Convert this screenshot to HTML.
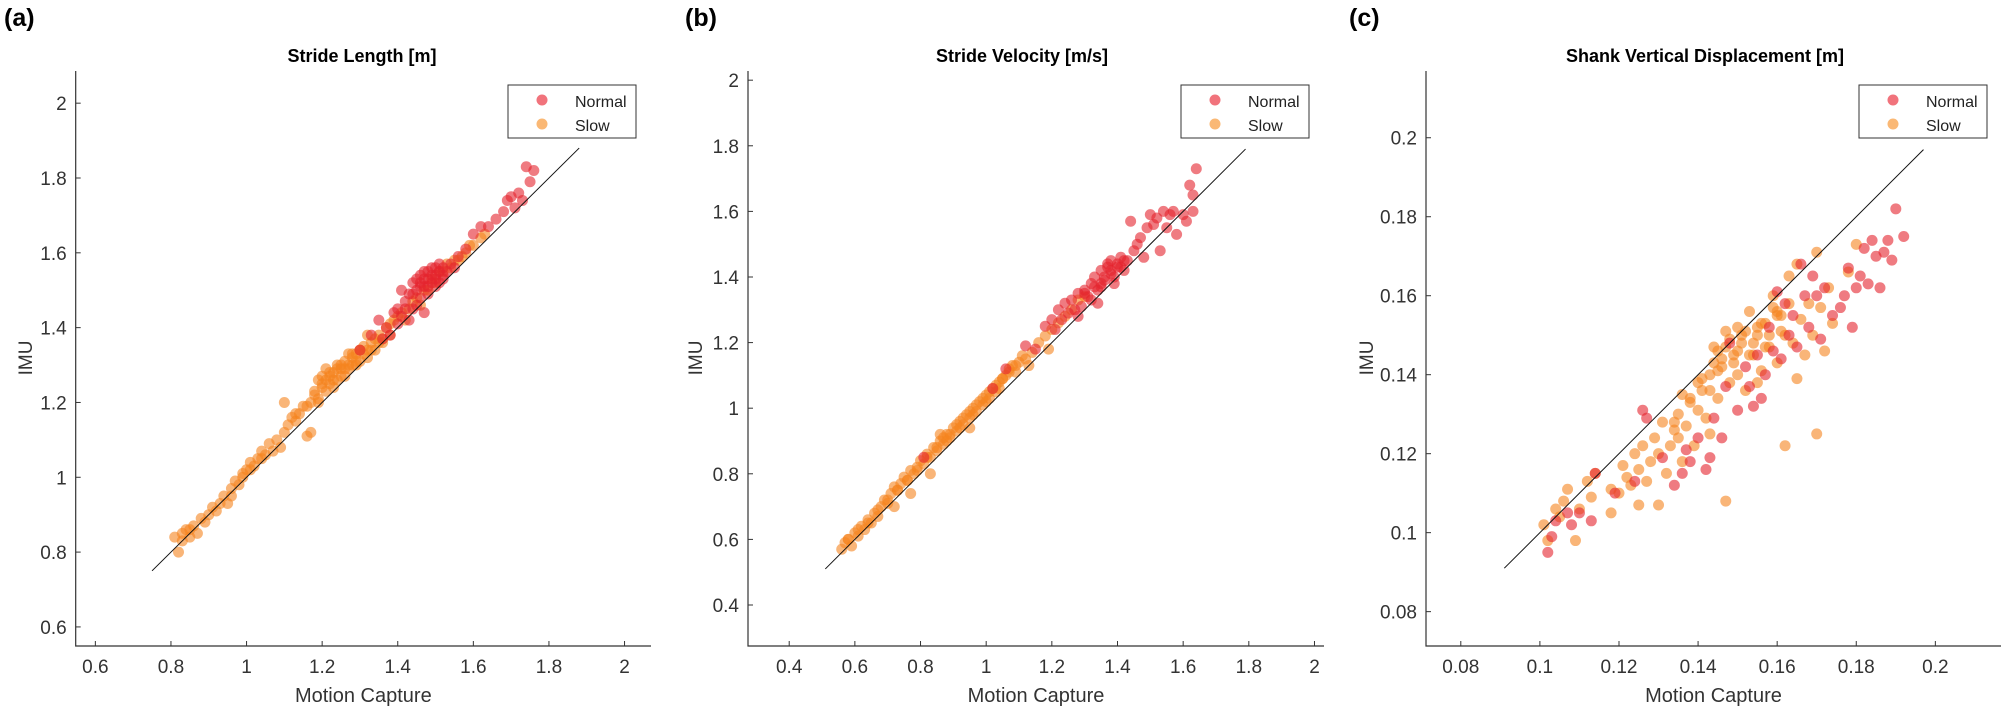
<!DOCTYPE html>
<html><head><meta charset="utf-8"><style>
html,body{margin:0;padding:0;background:#fff;}
svg{display:block;font-family:"Liberation Sans",Arial,sans-serif;}
</style></head><body>
<svg id="fig" width="2007" height="707" viewBox="0 0 2007 707"></svg>
<script>
// ---- Panel A data: Stride Length ----
const aSlowX=[0.81,0.82,0.83,0.84,0.85,0.86,0.87,0.88,0.90,0.91,0.93,0.94,0.95,0.96,0.97,0.98,0.99,1.00,1.01,1.02,1.03,1.04,1.05,1.06,1.07,1.08,1.10,1.10,1.11,1.12,1.14,1.15,1.16,1.17,1.17,1.18,1.19,1.20,1.20,1.21,1.22,1.22,1.23,1.24,1.25,1.25,1.26,1.27,1.28,1.28,1.29,1.30,1.31,1.32,1.32,1.33,1.34,1.35,1.36,1.37,1.38,1.40,1.42,1.44,1.46,1.48,1.50,1.52,1.54,1.56,1.58,1.60,1.62,1.63,1.21,1.16,1.13,1.24,1.27,1.30,1.35,1.19,
 0.83,0.85,0.89,0.92,0.96,0.99,1.01,1.04,1.09,1.13,1.18,1.19,1.21,1.23,1.24,1.26,1.27,1.29,1.30,1.31,1.33,1.34,1.36,1.38,1.39,1.41,1.43,1.45,1.47,1.49,1.51,1.53,1.55,1.57,1.59,1.22,1.25,1.28,1.20,1.23,1.26,1.29,1.32];
const aSlowY=[0.84,0.80,0.83,0.86,0.84,0.87,0.85,0.89,0.90,0.92,0.93,0.95,0.93,0.97,0.99,0.98,1.00,1.02,1.04,1.03,1.05,1.07,1.06,1.09,1.07,1.10,1.12,1.20,1.14,1.16,1.17,1.19,1.11,1.12,1.20,1.22,1.21,1.24,1.25,1.23,1.27,1.25,1.28,1.26,1.30,1.27,1.31,1.29,1.32,1.30,1.33,1.31,1.35,1.32,1.38,1.36,1.34,1.38,1.36,1.40,1.38,1.43,1.42,1.47,1.46,1.50,1.52,1.55,1.56,1.58,1.60,1.62,1.64,1.65,1.29,1.19,1.15,1.30,1.33,1.34,1.36,1.26,
 0.85,0.86,0.88,0.91,0.95,1.01,1.02,1.05,1.08,1.17,1.23,1.20,1.26,1.24,1.29,1.27,1.30,1.31,1.34,1.33,1.34,1.37,1.37,1.41,1.42,1.44,1.45,1.48,1.50,1.53,1.55,1.57,1.58,1.59,1.62,1.28,1.29,1.33,1.27,1.26,1.29,1.30,1.34];
const aNormX=[1.30,1.33,1.35,1.37,1.38,1.39,1.40,1.41,1.42,1.43,1.44,1.44,1.45,1.46,1.46,1.47,1.47,1.48,1.48,1.49,1.49,1.50,1.50,1.51,1.51,1.52,1.52,1.53,1.45,1.43,1.47,1.54,1.56,1.58,1.60,1.62,1.64,1.66,1.68,1.69,1.70,1.71,1.72,1.73,1.74,1.75,1.76,1.36,1.41,
 1.44,1.45,1.46,1.47,1.48,1.49,1.50,1.51,1.52,1.46,1.48,1.50,1.42,1.40,1.55];
const aNormY=[1.34,1.38,1.42,1.40,1.38,1.44,1.45,1.43,1.47,1.49,1.45,1.52,1.50,1.48,1.54,1.51,1.55,1.53,1.49,1.56,1.52,1.54,1.51,1.55,1.57,1.53,1.56,1.55,1.46,1.42,1.44,1.57,1.59,1.61,1.65,1.67,1.67,1.69,1.71,1.74,1.75,1.72,1.76,1.74,1.83,1.79,1.82,1.37,1.50,
 1.49,1.53,1.51,1.53,1.55,1.54,1.53,1.52,1.54,1.52,1.51,1.56,1.45,1.41,1.56];
const aTicksX=[0.6,0.8,1,1.2,1.4,1.6,1.8,2];
const aTicksY=[0.6,0.8,1,1.2,1.4,1.6,1.8,2];
const aLine=[0.75,1.88];
// ---- Panel B data: Stride Velocity ----
const bSlowX=[0.56,0.57,0.58,0.59,0.60,0.61,0.62,0.63,0.64,0.65,0.66,0.67,0.68,0.69,0.70,0.71,0.72,0.72,0.73,0.74,0.75,0.76,0.77,0.78,0.79,0.80,0.81,0.82,0.83,0.84,0.85,0.86,0.86,0.87,0.88,0.89,0.90,0.91,0.92,0.93,0.94,0.95,0.96,0.97,0.98,0.99,1.00,1.01,1.02,1.03,1.04,1.05,1.06,1.07,1.08,1.09,1.10,1.11,1.12,1.14,1.16,1.18,1.19,1.20,1.22,1.24,1.26,1.28,1.30,0.77,0.83,0.95,1.13,
 0.58,0.61,0.64,0.67,0.70,0.73,0.76,0.79,0.82,0.85,0.87,0.89,0.91,0.93,0.95,0.97,0.99,1.01,1.03,1.05,1.07,1.09,0.88,0.92,0.96,1.00,1.04];
const bSlowY=[0.57,0.59,0.60,0.58,0.62,0.61,0.64,0.63,0.66,0.65,0.68,0.67,0.70,0.72,0.71,0.74,0.70,0.76,0.75,0.77,0.79,0.78,0.81,0.80,0.82,0.84,0.83,0.86,0.85,0.88,0.87,0.90,0.92,0.89,0.92,0.91,0.94,0.93,0.96,0.95,0.98,0.97,1.00,0.99,1.02,1.01,1.04,1.03,1.06,1.05,1.08,1.09,1.10,1.12,1.13,1.11,1.14,1.16,1.15,1.17,1.20,1.22,1.18,1.24,1.26,1.28,1.30,1.33,1.34,0.74,0.80,0.94,1.13,
 0.60,0.63,0.65,0.69,0.72,0.75,0.78,0.81,0.85,0.88,0.91,0.92,0.95,0.97,0.99,1.01,1.03,1.05,1.07,1.09,1.11,1.13,0.90,0.94,0.98,1.02,1.06];
const bNormX=[0.81,1.02,1.06,1.12,1.15,1.18,1.20,1.21,1.22,1.23,1.24,1.25,1.26,1.27,1.28,1.29,1.30,1.31,1.32,1.32,1.33,1.34,1.35,1.35,1.36,1.37,1.38,1.38,1.39,1.40,1.41,1.42,1.43,1.44,1.45,1.46,1.47,1.48,1.49,1.50,1.51,1.52,1.53,1.54,1.55,1.56,1.57,1.58,1.60,1.61,1.62,1.63,1.63,1.64,1.28,1.34,
 1.30,1.33,1.36,1.38,1.40,1.42,1.37,1.39,1.41,1.35];
const bNormY=[0.85,1.06,1.12,1.19,1.18,1.25,1.27,1.24,1.30,1.27,1.32,1.29,1.33,1.30,1.35,1.31,1.36,1.34,1.38,1.33,1.40,1.36,1.42,1.37,1.39,1.43,1.41,1.45,1.38,1.44,1.46,1.42,1.45,1.57,1.48,1.50,1.52,1.46,1.55,1.59,1.56,1.58,1.48,1.60,1.55,1.59,1.60,1.53,1.59,1.57,1.68,1.60,1.65,1.73,1.28,1.32,
 1.35,1.37,1.40,1.42,1.43,1.45,1.44,1.40,1.43,1.38];
const bTicksX=[0.4,0.6,0.8,1,1.2,1.4,1.6,1.8,2];
const bTicksY=[0.4,0.6,0.8,1,1.2,1.4,1.6,1.8,2];
const bLine=[0.51,1.79];
// ---- Panel C data: Shank Vertical Displacement ----
const cSlowX=[0.101,0.102,0.104,0.105,0.106,0.107,0.109,0.110,0.112,0.113,0.114,0.118,0.118,0.120,0.121,0.122,0.123,0.124,0.125,0.125,0.126,0.127,0.128,0.129,0.130,0.130,0.131,0.132,0.133,0.134,0.135,0.136,0.137,0.138,0.139,0.140,0.141,0.142,0.143,0.143,0.144,0.145,0.146,0.147,0.147,0.148,0.149,0.150,0.151,0.152,0.153,0.154,0.155,0.156,0.157,0.158,0.159,0.160,0.161,0.162,0.162,0.163,0.164,0.165,0.165,0.166,0.167,0.168,0.169,0.170,0.170,0.171,0.172,0.173,0.174,0.178,0.180,0.155,0.150,0.145,0.140,0.135,0.160,
 0.146,0.148,0.150,0.152,0.154,0.156,0.158,0.160,0.149,0.151,0.153,0.155,0.157,0.159,0.161,0.163,0.141,0.143,0.145,0.138,0.136,0.134,0.144,0.147];
const cSlowY=[0.102,0.098,0.106,0.104,0.108,0.111,0.098,0.106,0.113,0.109,0.115,0.105,0.111,0.110,0.117,0.114,0.112,0.120,0.107,0.116,0.122,0.113,0.118,0.124,0.107,0.120,0.128,0.115,0.122,0.126,0.130,0.118,0.127,0.134,0.122,0.131,0.136,0.129,0.140,0.125,0.147,0.134,0.142,0.108,0.151,0.138,0.145,0.140,0.148,0.136,0.156,0.145,0.150,0.141,0.153,0.147,0.160,0.143,0.155,0.122,0.150,0.165,0.148,0.139,0.168,0.154,0.145,0.158,0.150,0.125,0.171,0.157,0.146,0.162,0.153,0.166,0.173,0.138,0.152,0.146,0.138,0.124,0.156,
 0.144,0.149,0.146,0.151,0.148,0.153,0.150,0.155,0.143,0.150,0.145,0.152,0.147,0.157,0.151,0.158,0.139,0.136,0.141,0.133,0.135,0.128,0.143,0.147];
const cNormX=[0.102,0.103,0.104,0.107,0.108,0.110,0.113,0.114,0.119,0.124,0.126,0.127,0.131,0.134,0.136,0.137,0.138,0.140,0.142,0.143,0.144,0.146,0.147,0.148,0.150,0.152,0.153,0.154,0.155,0.156,0.157,0.158,0.159,0.160,0.161,0.162,0.163,0.164,0.165,0.166,0.167,0.168,0.169,0.170,0.171,0.172,0.174,0.176,0.177,0.178,0.179,0.180,0.181,0.182,0.183,0.184,0.185,0.186,0.187,0.188,0.189,0.190,0.192];
const cNormY=[0.095,0.099,0.103,0.105,0.102,0.105,0.103,0.115,0.110,0.113,0.131,0.129,0.119,0.112,0.115,0.121,0.118,0.124,0.116,0.119,0.129,0.124,0.137,0.148,0.131,0.142,0.137,0.132,0.145,0.134,0.140,0.152,0.146,0.161,0.144,0.158,0.150,0.155,0.147,0.168,0.160,0.152,0.165,0.160,0.149,0.162,0.155,0.157,0.160,0.167,0.152,0.162,0.165,0.172,0.163,0.174,0.170,0.162,0.171,0.174,0.169,0.182,0.175];
const cTicksX=[0.08,0.1,0.12,0.14,0.16,0.18,0.2];
const cTicksY=[0.08,0.1,0.12,0.14,0.16,0.18,0.2];
const cLine=[0.091,0.197];

const NS='http://www.w3.org/2000/svg';
const svg=document.getElementById('fig');
function mk(tag,attrs,parent){const e=document.createElementNS(NS,tag);for(const k in attrs)e.setAttribute(k,attrs[k]);(parent||svg).appendChild(e);return e;}
function txt(s,attrs,parent){const e=mk('text',attrs,parent);e.textContent=s;return e;}

const NORM='rgba(228,35,45,0.6)', SLOW='rgba(245,132,30,0.6)';

function panel(cfg){
  const g=mk('g',{});
  
  
  const sx=v=>cfg.x0+(v-cfg.xmin)/(cfg.xmax-cfg.xmin)*(cfg.x1-cfg.x0);
  const sy=v=>cfg.y1-(v-cfg.ymin)/(cfg.ymax-cfg.ymin)*(cfg.y1-cfg.y0);
  const pl=txt(cfg.letter,{x:cfg.letterX,y:26,'font-size':25,'font-weight':'bold',fill:'#000'},g);
  
  
  const t=txt(cfg.title,{x:cfg.titleX,y:62,'font-size':18,'font-weight':'bold','text-anchor':'middle',fill:'#000'},g);
  
  
  const pts=mk('g',{},g);
  
  
  cfg.slowX.forEach((v,i)=>{const c=mk('circle',{cx:sx(v),cy:sy(cfg.slowY[i]),r:5.5,fill:SLOW},pts);
    
    });
  cfg.normX.forEach((v,i)=>{const c=mk('circle',{cx:sx(v),cy:sy(cfg.normY[i]),r:5.5,fill:NORM},pts);
    
    });
  const ln=mk('line',{x1:sx(cfg.line[0]),y1:sy(cfg.line[0]),x2:sx(cfg.line[1]),y2:sy(cfg.line[1]),stroke:'#111','stroke-width':1},g);
  
  
  const ax=mk('path',{d:`M${cfg.x0},${cfg.y0}V${cfg.y1}H${cfg.x1}`,fill:'none',stroke:'#333','stroke-width':1.2},g);
  
  
  cfg.ticksX.forEach(v=>{const x=sx(v);mk('line',{x1:x,y1:cfg.y1,x2:x,y2:cfg.y1-5,stroke:'#333'},g);
    const l=txt(String(v),{x:x,y:cfg.y1+27,'font-size':19,'text-anchor':'middle',fill:'#333'},g);
    
    });
  cfg.ticksY.forEach(v=>{const y=sy(v);mk('line',{x1:cfg.x0,y1:y,x2:cfg.x0+5,y2:y,stroke:'#333'},g);
    const l=txt(String(v),{x:cfg.x0-9,y:y+7,'font-size':19,'text-anchor':'end',fill:'#333'},g);
    
    });
  const xl=txt('Motion Capture',{x:(cfg.x0+cfg.x1)/2,y:702,'font-size':20,'text-anchor':'middle',fill:'#333'},g);
  
  
  const yl=txt('IMU',{x:0,y:0,'font-size':19,'text-anchor':'middle',fill:'#333',transform:`translate(${cfg.imuX},358) rotate(-90)`},g);
  
  
  const lg=mk('g',{},g);
  
  
  mk('rect',{x:cfg.legX,y:85,width:128,height:53,fill:'#fff',stroke:'#333','stroke-width':1},lg);
  const e1=mk('g',{},lg);
  
  
  mk('circle',{cx:cfg.legX+34,cy:100,r:5.5,fill:'rgba(240,100,110,0.9)'},e1);
  txt('Normal',{x:cfg.legX+67,y:107,'font-size':16,fill:'#222'},e1);
  const e2=mk('g',{},lg);
  
  
  mk('circle',{cx:cfg.legX+34,cy:124,r:5.5,fill:'rgba(250,180,110,0.95)'},e2);
  txt('Slow',{x:cfg.legX+67,y:131,'font-size':16,fill:'#222'},e2);
}

panel({name:'panel-a-stride-length',letter:'(a)',letterX:4,title:'Stride Length [m]',titleX:362,
  x0:75.7,x1:651,y0:71,y1:646,xmin:0.548,xmax:2.07,ymin:0.549,ymax:2.086,
  slowX:aSlowX,slowY:aSlowY,normX:aNormX,normY:aNormY,ticksX:aTicksX,ticksY:aTicksY,line:aLine,imuX:32,legX:508});
panel({name:'panel-b-stride-velocity',letter:'(b)',letterX:685,title:'Stride Velocity [m/s]',titleX:1022,
  x0:748,x1:1324,y0:71,y1:646,xmin:0.2745,xmax:2.029,ymin:0.275,ymax:2.028,
  slowX:bSlowX,slowY:bSlowY,normX:bNormX,normY:bNormY,ticksX:bTicksX,ticksY:bTicksY,line:bLine,imuX:702,legX:1181});
panel({name:'panel-c-shank-displacement',letter:'(c)',letterX:1349,title:'Shank Vertical Displacement [m]',titleX:1705,
  x0:1426,x1:2001,y0:71,y1:646,xmin:0.0712,xmax:0.2166,ymin:0.0713,ymax:0.2169,
  slowX:cSlowX,slowY:cSlowY,normX:cNormX,normY:cNormY,ticksX:cTicksX,ticksY:cTicksY,line:cLine,imuX:1373,legX:1859});
</script>
</body></html>
